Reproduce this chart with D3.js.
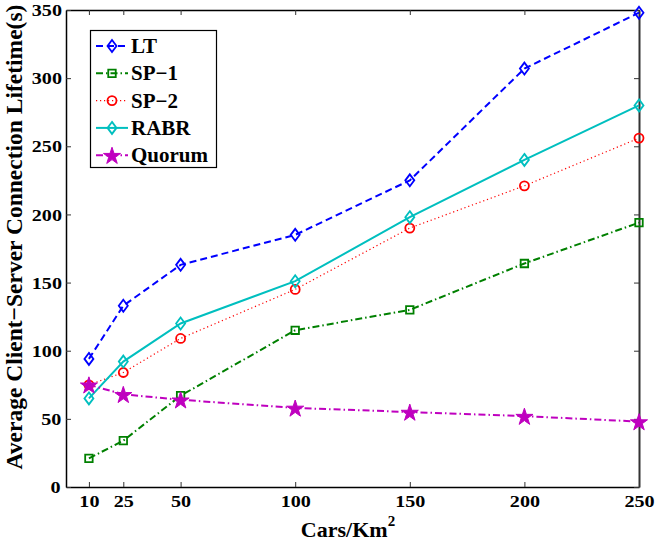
<!DOCTYPE html>
<html>
<head>
<meta charset="utf-8">
<script src="https://cdn.jsdelivr.net/npm/d3@7"></script>
<style>
  html, body { margin: 0; padding: 0; background: #fff; }
  svg { display: block; }
  text { font-family: "Liberation Serif", "Times New Roman", serif; font-weight: bold; fill: #000; }
  .tick text { transform-box: fill-box; transform-origin: center; transform: scaleX(1.15); }
</style>
</head>
<body>
<svg id="chart" width="655" height="543"></svg>
<script>
// Car density (cars per km²)
const density = [10, 25, 50, 100, 150, 200, 250];

// Average client-server connection lifetime (s) per scheme
const ltValues     = [94, 133, 163, 185, 225, 307, 348];
const sp1Values    = [21, 34, 67, 115, 130, 164, 194];
const sp2Values    = [75, 84, 109, 145, 190, 221, 256];
const rabrValues   = [65, 92, 120, 151, 198, 240, 280];
const quorumValues = [75, 68, 64, 58, 55, 52, 48];

const xTicks = [10, 25, 50, 100, 150, 200, 250];
const yTicks = [0, 50, 100, 150, 200, 250, 300, 350];

const seriesNames = ["LT", "SP\u22121", "SP\u22122", "RABR", "Quorum"];

const series = [
  { name: seriesNames[0], values: ltValues,     color: "#0000ff", dash: "7,4",         width: 2,   marker: "diamond" },
  { name: seriesNames[1], values: sp1Values,    color: "#008000", dash: "7,3,1.5,3",   width: 2,   marker: "square" },
  { name: seriesNames[2], values: sp2Values,    color: "#ff0000", dash: "1.2,2.8",     width: 1.2, marker: "circle" },
  { name: seriesNames[3], values: rabrValues,   color: "#00bfbf", dash: null,          width: 2,   marker: "diamond" },
  { name: seriesNames[4], values: quorumValues, color: "#bf00bf", dash: "7,3,1.5,3",   width: 2,   marker: "star" }
];

const svg = d3.select("#chart");
const margin = { left: 66, right: 16, top: 10, bottom: 56 };
const W = 655, H = 543;
const plotW = W - margin.left - margin.right;
const plotH = H - margin.top - margin.bottom;

const x = d3.scaleLinear().domain([0, 250]).range([margin.left, margin.left + plotW]);
const y = d3.scaleLinear().domain([0, 350]).range([margin.top + plotH, margin.top]);

const g = svg.append("g");

// Axes: inward ticks on all four sides (boxed frame)
const tickLen = 5;
const bottomAxis = d3.axisBottom(x).tickValues(xTicks).tickSizeInner(-tickLen).tickSizeOuter(0).tickPadding(8);
const topAxis = d3.axisTop(x).tickValues(xTicks).tickSizeInner(-tickLen).tickSizeOuter(0).tickFormat("");
const leftAxis = d3.axisLeft(y).tickValues(yTicks).tickSizeInner(-tickLen).tickSizeOuter(0).tickPadding(6);
const rightAxis = d3.axisRight(y).tickValues(yTicks).tickSizeInner(-tickLen).tickSizeOuter(0).tickFormat("");

function styleAxis(sel) {
  sel.select(".domain").attr("stroke", "#000").attr("stroke-width", 1.5);
  sel.selectAll(".tick line").attr("stroke", "#333").attr("stroke-width", 1);
  sel.selectAll(".tick text")
    .attr("font-family", "Liberation Serif, Times New Roman, serif")
    .attr("font-weight", "bold")
    .attr("font-size", 17.5)
    .attr("fill", "#000");
}

g.append("g").attr("transform", `translate(0,${y(0)})`).call(bottomAxis).call(styleAxis);
g.append("g").attr("transform", `translate(0,${y(350)})`).call(topAxis).call(styleAxis);
g.append("g").attr("transform", `translate(${x(0)},0)`).call(leftAxis).call(styleAxis);
g.append("g").attr("transform", `translate(${x(250)},0)`).call(rightAxis).call(styleAxis)
  .select(".domain").attr("stroke", "#333").attr("stroke-width", 2);

// Axis titles
svg.append("text")
  .attr("transform", `translate(22,237) rotate(-90)`)
  .attr("text-anchor", "middle")
  .attr("font-size", 23.5)
  .text("Average Client\u2212Server Connection Lifetime(s)");

const xl = svg.append("text")
  .attr("x", 348)
  .attr("y", 537)
  .attr("text-anchor", "middle")
  .attr("font-size", 22);
xl.append("tspan").text("Cars/Km");
xl.append("tspan").attr("font-size", 15).attr("dy", -11).text("2");

// Marker shapes
const squareSym = d3.symbol().type(d3.symbolSquare).size(56);
const starSym = d3.symbol().type(d3.symbolStar).size(90);

function drawMarker(sel, kind, color, cx, cy) {
  if (kind === "diamond") {
    sel.append("path")
      .attr("d", `M${cx},${cy - 6}L${cx + 4.5},${cy}L${cx},${cy + 6}L${cx - 4.5},${cy}Z`)
      .attr("fill", "none").attr("stroke", color).attr("stroke-width", 1.8);
  } else if (kind === "circle") {
    sel.append("circle").attr("cx", cx).attr("cy", cy).attr("r", 4.5)
      .attr("fill", "none").attr("stroke", color).attr("stroke-width", 1.8);
  } else if (kind === "square") {
    sel.append("path").attr("d", squareSym()).attr("transform", `translate(${cx},${cy})`)
      .attr("fill", "none").attr("stroke", color).attr("stroke-width", 1.8);
  } else if (kind === "star") {
    sel.append("path").attr("d", starSym()).attr("transform", `translate(${cx},${cy + 1})`)
      .attr("fill", color).attr("stroke", color).attr("stroke-width", 1);
  }
}

const line = d3.line().x((d, i) => x(density[i])).y(d => y(d));

series.forEach(s => {
  const sg = g.append("g");
  sg.append("path")
    .datum(s.values)
    .attr("d", line)
    .attr("fill", "none")
    .attr("stroke", s.color)
    .attr("stroke-width", s.width)
    .attr("stroke-dasharray", s.dash);
  s.values.forEach((v, i) => drawMarker(sg, s.marker, s.color, x(density[i]), y(v)));
});

// Legend
const lg = svg.append("g");
lg.append("rect")
  .attr("x", 90.5).attr("y", 30.5).attr("width", 126).attr("height", 137)
  .attr("fill", "#fff").attr("stroke", "#000").attr("stroke-width", 1.2);

series.forEach((s, i) => {
  const cy = 46 + i * 27.3;
  lg.append("line")
    .attr("x1", 96).attr("x2", 128).attr("y1", cy).attr("y2", cy)
    .attr("stroke", s.color).attr("stroke-width", s.width)
    .attr("stroke-dasharray", s.dash);
  drawMarker(lg, s.marker, s.color, 112, cy);
  lg.append("text")
    .attr("x", 131).attr("y", cy + 7)
    .attr("font-size", 21)
    .text(s.name);
});
</script>
</body>
</html>
